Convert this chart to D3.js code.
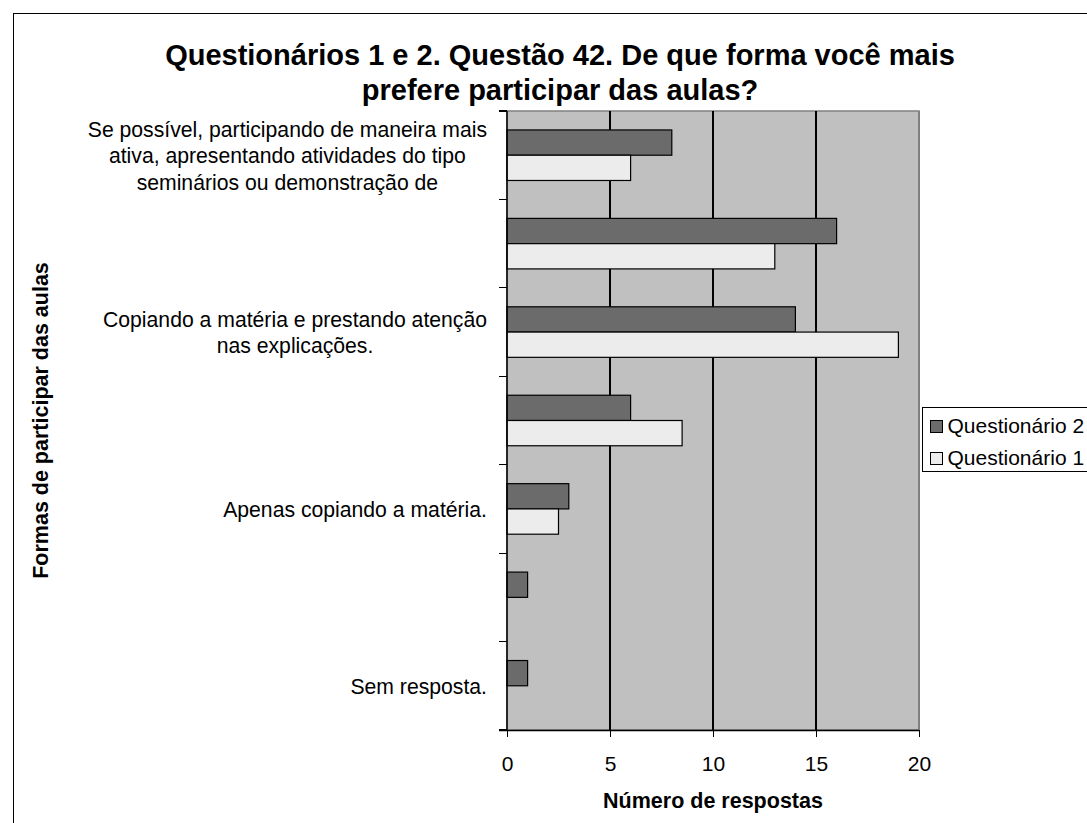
<!DOCTYPE html>
<html>
<head>
<meta charset="utf-8">
<script src="https://cdn.jsdelivr.net/npm/d3@7"></script>
<style>
  html, body { margin: 0; padding: 0; background: #ffffff; }
  svg { display: block; font-family: "Liberation Sans", Arial, sans-serif; }
</style>
</head>
<body>
<svg id="chart" width="1087" height="823"></svg>
<script>
// Categories, top to bottom. Unlabelled rows carry an empty label.
const categories = [
  ["Se possível, participando de maneira mais", "ativa, apresentando atividades do tipo", "seminários ou demonstração de"],
  [],
  ["Copiando a matéria e prestando atenção", "nas explicações."],
  [],
  ["Apenas copiando a matéria."],
  [],
  ["Sem resposta."]
];
const seriesNames = ["Questionário 2", "Questionário 1"];
const questionario2 = [8, 16, 14, 6, 3, 1, 1];
const questionario1 = [6, 13, 19, 8.5, 2.5, 0, 0];
const xTicks = [0, 5, 10, 15, 20];

const titleLines = ["Questionários 1 e 2. Questão 42. De que forma você mais", "prefere participar das aulas?"];
const xTitle = "Número de respostas";
const yTitle = "Formas de participar das aulas";

const colors = { "Questionário 2": "#6b6b6b", "Questionário 1": "#ececec" };

const svg = d3.select("#chart");
const plot = { left: 507, right: 919, top: 111, bottom: 730 };

// outer chart frame (extends past the window on the right and bottom)
svg.append("rect").attr("x", 13.5).attr("y", 13.5).attr("width", 1200).attr("height", 900)
  .attr("fill", "#fff").attr("stroke", "#000").attr("stroke-width", 1);

const x = d3.scaleLinear().domain([0, 20]).range([plot.left, plot.right]);
const idx = d3.range(categories.length);
const y = d3.scaleBand().domain(idx).range([plot.top, plot.bottom]).paddingInner(0).paddingOuter(0);
const barH = y.bandwidth() / 3.5;
const inner = d3.scaleBand().domain(seriesNames).range([0, 2 * barH]);

// plot area
svg.append("rect").attr("x", plot.left).attr("y", plot.top)
  .attr("width", plot.right - plot.left).attr("height", plot.bottom - plot.top)
  .attr("fill", "#c0c0c0").attr("stroke", "#808080").attr("stroke-width", 1.5);

// vertical gridlines
svg.append("g").attr("shape-rendering", "crispEdges")
  .selectAll("line").data(xTicks.slice(1)).join("line")
  .attr("x1", d => x(d)).attr("x2", d => x(d))
  .attr("y1", plot.top).attr("y2", plot.bottom)
  .attr("stroke", d => d === 20 ? "#808080" : "#000").attr("stroke-width", 1.5);

// bars
const rows = idx.map(i => ({ i, values: [
  { name: seriesNames[0], v: questionario2[i] },
  { name: seriesNames[1], v: questionario1[i] }
]}));
const groups = svg.append("g").selectAll("g").data(rows).join("g")
  .attr("transform", d => `translate(0,${y(d.i) + (y.bandwidth() - 2 * barH) / 2})`);
groups.selectAll("rect").data(d => d.values.filter(e => e.v > 0)).join("rect")
  .attr("x", x(0)).attr("y", d => inner(d.name))
  .attr("width", d => x(d.v) - x(0)).attr("height", barH)
  .attr("fill", d => colors[d.name]).attr("stroke", "#000").attr("stroke-width", 1.2);

// x axis
const xAxis = d3.axisBottom(x).tickValues(xTicks).tickSize(7).tickPadding(19).tickFormat(d3.format("d"));
const gx = svg.append("g").attr("transform", `translate(0,${plot.bottom})`).call(xAxis);
gx.select(".domain").attr("stroke", "#000").attr("stroke-width", 1.5).attr("d", `M${plot.left - 8},0.5H${plot.right}`);
gx.selectAll(".tick line").attr("stroke", "#000").attr("shape-rendering", "crispEdges");
gx.selectAll(".tick text").attr("font-size", 21).attr("fill", "#000")
  .attr("font-family", "'Liberation Sans', Arial, sans-serif");

// y axis line and category boundary ticks
svg.append("line").attr("x1", plot.left).attr("x2", plot.left)
  .attr("y1", plot.top).attr("y2", plot.bottom).attr("stroke", "#000").attr("stroke-width", 1.5);
const bounds = idx.map(i => y(i)).concat([plot.bottom]);
svg.append("g").attr("shape-rendering", "crispEdges")
  .selectAll("line").data(bounds).join("line")
  .attr("x1", plot.left - 8).attr("x2", plot.left)
  .attr("y1", d => d).attr("y2", d => d).attr("stroke", "#000").attr("stroke-width", 1.2);

// category labels: each block right-aligned, lines centred within it
const labelRight = 487, lineH = 26.5, fs = 21.2;
rows.forEach(r => {
  const lines = categories[r.i];
  if (!lines.length) return;
  const g = svg.append("g");
  const c = y(r.i) + y.bandwidth() / 2;
  const texts = g.selectAll("text").data(lines).join("text")
    .attr("font-size", fs).attr("text-anchor", "middle").attr("fill", "#000")
    .attr("y", (d, k) => c + (k - (lines.length - 1) / 2) * lineH + 8)
    .text(d => d);
  const maxW = d3.max(texts.nodes(), n => n.getComputedTextLength());
  texts.attr("x", labelRight - maxW / 2);
});

// title
svg.append("g").selectAll("text").data(titleLines).join("text")
  .attr("x", 560).attr("y", (d, k) => 65 + k * 35)
  .attr("text-anchor", "middle").attr("font-size", 29).attr("font-weight", "bold")
  .text(d => d);

// axis titles
svg.append("text").attr("x", x(10)).attr("y", 808).attr("text-anchor", "middle")
  .attr("font-size", 21.5).attr("font-weight", "bold").text(xTitle);
svg.append("text").attr("transform", `translate(48,${(plot.top + plot.bottom) / 2}) rotate(-90)`)
  .attr("text-anchor", "middle").attr("font-size", 21.5).attr("font-weight", "bold").text(yTitle);

// legend
const lg = svg.append("g").attr("transform", "translate(922.5,407.5)");
lg.append("rect").attr("width", 200).attr("height", 64).attr("fill", "#fff").attr("stroke", "#000");
const li = lg.selectAll("g").data(seriesNames).join("g")
  .attr("transform", (d, k) => `translate(8,${13 + k * 32})`);
li.append("rect").attr("width", 12).attr("height", 12)
  .attr("fill", d => colors[d]).attr("stroke", "#000");
li.append("text").attr("x", 17).attr("y", 12).attr("font-size", 21).text(d => d);
</script>
</body>
</html>
